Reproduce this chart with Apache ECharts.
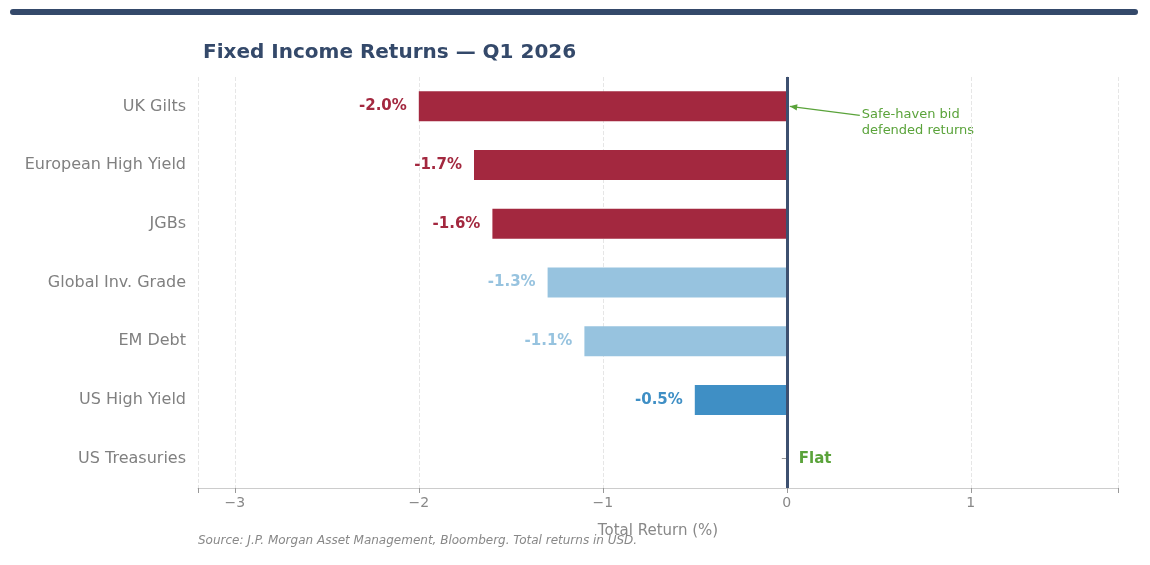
<!DOCTYPE html>
<html>
<head>
<meta charset="utf-8">
<script src="https://cdn.jsdelivr.net/npm/echarts@6/dist/echarts.min.js"></script>
<style>
  html, body { margin: 0; padding: 0; background: #fff; }
  #chart { width: 1150px; height: 565px; }
</style>
</head>
<body>
<div id="chart"></div>
<script>
var categories = ['UK Gilts', 'European High Yield', 'JGBs', 'Global Inv. Grade', 'EM Debt', 'US High Yield', 'US Treasuries'];
var returns = [-2.0, -1.7, -1.6, -1.3, -1.1, -0.5, 0.0];
var barColors = ['#a3283f', '#a3283f', '#a3283f', '#97c3df', '#97c3df', '#3f8fc5', '#3f8fc5'];
var xTicks = [-3, -2, -1, 0, 1];

var myChart = echarts.init(document.getElementById('chart'));
var green = '#5aa33a';
var fontFam = '"DejaVu Sans", sans-serif';

var seriesData = returns.map(function (v, i) {
    var item = { value: v, itemStyle: { color: barColors[i] } };
    if (v === 0) {
        item.label = { show: true, position: 'right', distance: 12, formatter: 'Flat', color: green };
    } else {
        item.label = { show: true, position: 'left', distance: 12, color: barColors[i] };
    }
    return item;
});

var option = {
    animation: false,
    textStyle: { fontFamily: fontFam },
    title: {
        text: 'Fixed Income Returns — Q1 2026',
        left: 198, top: 38,
        textStyle: { fontSize: 20, fontWeight: 'bold', color: '#34496a', fontFamily: fontFam }
    },
    grid: { left: 198, right: 32, top: 77, bottom: 77 },
    xAxis: {
        type: 'value',
        min: -3.2, max: 1.8,
        name: 'Total Return (%)',
        nameLocation: 'middle',
        nameGap: 36,
        nameTextStyle: { color: '#888', fontSize: 15 },
        axisLine: { show: true, onZero: false, lineStyle: { color: '#ccc' } },
        axisTick: { show: true, lineStyle: { color: '#999' } },
        axisLabel: {
            color: '#888', fontSize: 14,
            customValues: xTicks,
            formatter: function (v) { return v < 0 ? '\u2212' + Math.abs(v) : String(v); }
        },
        splitLine: { show: true, lineStyle: { color: '#e6e6e6', type: 'dashed' } }
    },
    yAxis: {
        type: 'category',
        inverse: true,
        data: categories,
        axisLine: { show: true, lineStyle: { color: '#ccc' } },
        axisTick: { show: true, alignWithLabel: true, lineStyle: { color: '#999' } },
        axisLabel: { color: '#808080', fontSize: 16, margin: 12 }
    },
    series: [{
        type: 'bar',
        data: seriesData,
        barWidth: 30,
        label: {
            show: true, fontSize: 15, fontWeight: 'bold',
            formatter: function (p) { return p.value.toFixed(1) + '%'; }
        },
        markLine: {
            silent: true, symbol: 'none', label: { show: false },
            lineStyle: { color: '#3d5070', width: 3, type: 'solid' },
            data: [{ xAxis: 0 }]
        }
    }],
    graphic: [
        { type: 'rect', shape: { x: 10, y: 9, width: 1128, height: 6, r: 3 }, style: { fill: '#34496a' } },
        {
            type: 'text', left: 198, top: 535,
            style: { text: 'Source: J.P. Morgan Asset Management, Bloomberg. Total returns in USD.', fill: '#888', fontSize: 12, fontStyle: 'italic', fontFamily: fontFam }
        }
    ]
};
myChart.setOption(option);

// annotation arrow pointing at the UK Gilts bar end on the zero line
var tip = myChart.convertToPixel({ gridIndex: 0 }, [0, 0]);
var tx = tip[0] + 3, ty = tip[1];
var sx = tx + 70, sy = ty + 9;
var ang = Math.atan2(ty - sy, tx - sx);
var ah = 8;
myChart.setOption({
    graphic: option.graphic.concat([
        { type: 'line', shape: { x1: sx, y1: sy, x2: tx, y2: ty }, style: { stroke: green, lineWidth: 1.3 } },
        {
            type: 'polygon',
            shape: { points: [[tx, ty],
                [tx - ah * Math.cos(ang - 0.4), ty - ah * Math.sin(ang - 0.4)],
                [tx - ah * Math.cos(ang + 0.4), ty - ah * Math.sin(ang + 0.4)]] },
            style: { fill: green }
        },
        {
            type: 'text', x: sx + 2, y: sy - 9,
            style: { text: 'Safe-haven bid\ndefended returns', fill: green, fontSize: 13, lineHeight: 16, fontFamily: fontFam }
        }
    ])
});
</script>
</body>
</html>
